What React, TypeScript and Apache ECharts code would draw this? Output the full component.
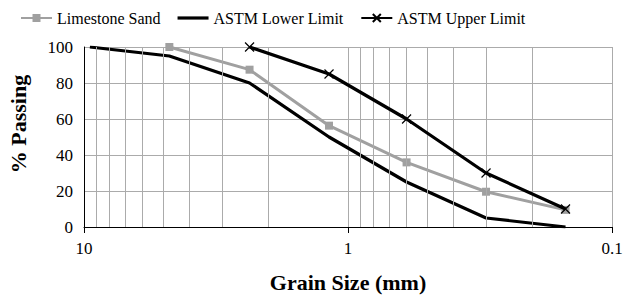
import React, { useEffect, useRef } from "react";
import * as echarts from "echarts";

// Grain sizes (mm) and percent passing
const limestoneSizes = [4.75, 2.36, 1.18, 0.6, 0.3, 0.15];
const limestonePassing = [100, 87.4, 56.3, 35.9, 19.6, 9.5];

const lowerSizes = [9.5, 4.75, 2.36, 1.18, 0.6, 0.3, 0.15];
const lowerPassing = [100, 95, 80, 50, 25, 5, 0];

const upperSizes = [2.36, 1.18, 0.6, 0.3, 0.15];
const upperPassing = [100, 85, 60, 30, 10];

const minorGridValues = [9, 8, 7, 6, 5, 4, 3, 2, 0.9, 0.8, 0.7, 0.6, 0.5, 0.4, 0.3, 0.2];

const seriesNames = ["Limestone Sand", "ASTM Lower Limit", "ASTM Upper Limit"];

const FONT = "Liberation Serif";
const GRID_COLOR = "#ababab";
const GRAY = "#a0a0a0";

function pairs(xs: number[], ys: number[]) {
  return xs.map((x, i) => [x, ys[i]]);
}

export default function App() {
  const ref = useRef<HTMLDivElement>(null);

  useEffect(() => {
    if (!ref.current) return;
    const chart = echarts.init(ref.current, undefined, { renderer: "svg" });
    const labelText = { fontFamily: FONT, fontSize: 17, color: "#000" };
    chart.setOption({
      animation: false,
      backgroundColor: "#ffffff",
      textStyle: { fontFamily: FONT },
      legend: {
        data: [
          { name: seriesNames[0] },
          { name: seriesNames[1], icon: "path://M0,0H31V3.2H0Z" },
          { name: seriesNames[2] },
        ],
        left: 20,
        top: 10,
        padding: 0,
        itemWidth: 31,
        itemHeight: 10,
        itemGap: 17,
        textStyle: { fontFamily: FONT, fontSize: 16, color: "#000" },
      },
      grid: { left: 84, right: 16, top: 47, bottom: 73 },
      xAxis: {
        type: "log",
        logBase: 10,
        min: 0.1,
        max: 10,
        inverse: true,
        name: "Grain Size (mm)",
        nameLocation: "middle",
        nameGap: 44,
        nameTextStyle: { fontFamily: FONT, fontSize: 22, fontWeight: "bold", color: "#000" },
        axisLine: { show: true, lineStyle: { color: "#000", width: 1 } },
        axisTick: { show: true, length: 6, lineStyle: { color: "#000" } },
        axisLabel: {
          ...labelText,
          margin: 13,
          formatter: (v: number) => (v >= 1 ? String(Math.round(v)) : String(+v.toFixed(1))),
        },
        splitLine: { show: true, lineStyle: { color: GRID_COLOR, width: 1 } },
      },
      yAxis: {
        type: "value",
        min: 0,
        max: 100,
        interval: 20,
        axisLine: { show: true, lineStyle: { color: "#000", width: 1 } },
        axisTick: { show: false },
        axisLabel: { ...labelText, margin: 11 },
        splitLine: { show: true, lineStyle: { color: GRID_COLOR, width: 1 } },
      },
      graphic: [
        {
          type: "text",
          x: 18,
          y: 124,
          rotation: Math.PI / 2,
          style: {
            text: "% Passing",
            fontFamily: FONT,
            fontSize: 22,
            fontWeight: "bold",
            fill: "#000",
            align: "center",
            verticalAlign: "middle",
          },
        },
      ],
      series: [
        {
          name: "minor-grid",
          type: "line",
          data: [],
          z: 1,
          silent: true,
          markLine: {
            silent: true,
            symbol: ["none", "none"],
            label: { show: false },
            lineStyle: { color: GRID_COLOR, width: 1, type: "solid" },
            data: minorGridValues.map((v) => ({ xAxis: v })),
          },
        },
        {
          name: seriesNames[0],
          type: "line",
          z: 3,
          data: pairs(limestoneSizes, limestonePassing),
          symbol: "rect",
          symbolSize: 8,
          itemStyle: { color: GRAY },
          lineStyle: { color: GRAY, width: 3 },
        },
        {
          name: seriesNames[1],
          type: "line",
          z: 4,
          data: pairs(lowerSizes, lowerPassing),
          symbol: "none",
          itemStyle: { color: "#000" },
          lineStyle: { color: "#000", width: 3.2 },
        },
        {
          name: seriesNames[2],
          type: "line",
          z: 5,
          data: pairs(upperSizes, upperPassing),
          symbol: "path://M0,0L10,10M10,0L0,10",
          symbolSize: 9,
          showSymbol: true,
          itemStyle: { color: "#000", borderColor: "#000", borderWidth: 1.2 },
          lineStyle: { color: "#000", width: 3.2 },
        },
      ],
    });
    return () => chart.dispose();
  }, []);

  return (
    <div
      ref={ref}
      style={{ position: "fixed", left: 0, top: 0, width: 628, height: 300, background: "#fff" }}
    />
  );
}
